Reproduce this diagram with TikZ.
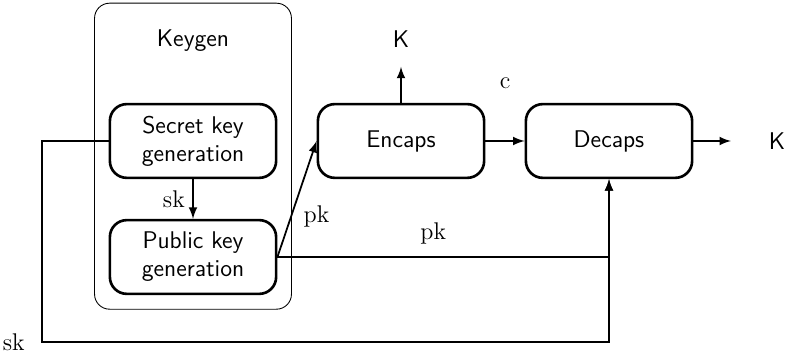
\documentclass[tikz,border=0pt]{standalone}
\usepackage{amsmath}
\usepackage{tikz}
\usetikzlibrary{positioning, arrows}
\usetikzlibrary{calc}

\begin{document}
\begin{tikzpicture}[>=latex, thick, node distance=3.328cm, on grid,
    font=\fontsize{11}{12.7}\selectfont,
    block/.style={draw, very thick, rounded corners=0.27cm, minimum width=2.66cm, minimum height=1.18cm, align=center, font=\sffamily\fontsize{11}{12.7}\selectfont},
    lbl/.style={font=\sffamily\fontsize{11}{12.7}\selectfont}]
    \useasboundingbox (0,0) rectangle (12.576,5.696);

    \node[block] (sec) at (3.088,3.44) {Secret key\\generation};
    \node[block] (pub) [below=1.856cm of sec] {Public key\\generation};
    \node[block] (enc) [right=of sec] {Encaps};
    \node[block] (dec) [right=of enc] {Decaps};
    \node[lbl] (kg) [above=1.6cm of sec] {Keygen};
    \node[lbl] (kenc) [above=1.632cm of enc] {K};
    \node[lbl] (kdec) [right=2.688cm of dec] {K};

    \coordinate[above=0.576cm of enc.north] (eout);
    \coordinate[right=0.6cm of dec.east] (dout);
    \coordinate[left=1.07cm of sec.west] (skleft);
    \coordinate (skbot) at ($(skleft)+(0,-3.216)$);

    % keygen frame
    \draw[thin, rounded corners=0.24cm] ($(pub.south west)+(-0.224,-0.224)$) rectangle ($(sec.east |- kg.north)+(0.224,0.3)$);

    \draw[->] (sec) -- node[left] {sk} (pub);
    \draw[->] (pub.east) -- node[pos=0.35, right=2pt] {pk} (enc.west);
    \draw[->] (pub.east) -- node[above=2pt, pos=0.47] {pk} (pub.east -| dec.south) -- (dec.south);
    \draw[->] (enc) -- node[above=0.7cm] {c} (dec);
    \draw[->] (enc) -- (eout);
    \draw[->] (dec) -- (dout);
    \draw[->] (sec.west) -- (skleft) -- (skbot) node[left=4pt] {sk} -| (dec.south);
\end{tikzpicture}
\end{document}
